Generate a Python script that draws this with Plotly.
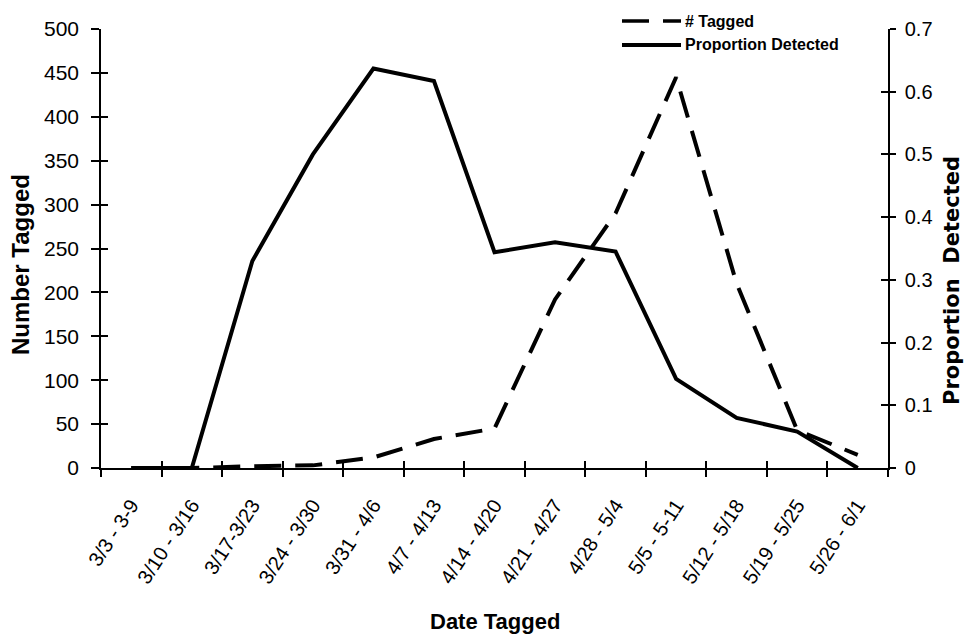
import plotly.graph_objects as go

categories = ["3/3 - 3-9", "3/10 - 3/16", "3/17-3/23", "3/24 - 3/30", "3/31 - 4/6",
              "4/7 - 4/13", "4/14 - 4/20", "4/21 - 4/27", "4/28 - 5/4", "5/5 - 5-11",
              "5/12 - 5/18", "5/19 - 5/25", "5/26 - 6/1"]
number_tagged = [0, 0, 2, 3, 12, 33, 45, 192, 290, 445, 210, 43, 15]
proportion_detected = [0, 0, 0.33, 0.50, 0.637, 0.617, 0.344, 0.36, 0.345, 0.142, 0.08, 0.058, 0]
left_ticks = [0, 50, 100, 150, 200, 250, 300, 350, 400, 450, 500]
right_ticks = [0, 0.1, 0.2, 0.3, 0.4, 0.5, 0.6, 0.7]

FONT = "Arial, Liberation Sans, Helvetica, sans-serif"
WIDE = "DejaVu Sans, Verdana, sans-serif"

L, R, T, B = 101, 80, 29, 167
W, H = 968, 635
plot_w = W - L - R
plot_h = H - T - B


def px_x(px):
    return (px - L) / plot_w


def px_y(py):
    return (H - B - py) / plot_h


fig = go.Figure()
fig.add_trace(go.Scatter(x=categories, y=number_tagged, name="# Tagged", mode="lines",
                         line=dict(color="black", width=4, dash="27px,14px"),
                         xaxis="x", yaxis="y", showlegend=False))
fig.add_trace(go.Scatter(x=categories, y=proportion_detected, name="Proportion Detected",
                         mode="lines", line=dict(color="black", width=4),
                         xaxis="x", yaxis="y2", showlegend=False))
# invisible helper traces so the cross-tick overlay axes get drawn
fig.add_trace(go.Scatter(x=categories, y=[None] * len(categories), xaxis="x2", yaxis="y3",
                         mode="lines", showlegend=False, hoverinfo="skip"))
fig.add_trace(go.Scatter(x=categories, y=[None] * len(categories), xaxis="x2", yaxis="y4",
                         mode="lines", showlegend=False, hoverinfo="skip"))

tickfont = dict(family=FONT, size=20, color="black")

fig.update_layout(
    width=W, height=H,
    margin=dict(l=L, r=R, t=T, b=B, autoexpand=False),
    paper_bgcolor="white", plot_bgcolor="white",
    font=dict(family=FONT, color="black"),
    xaxis=dict(
        type="category", categoryorder="array", categoryarray=categories,
        range=[-0.5, len(categories) - 0.5], automargin=False,
        showline=True, linecolor="black", linewidth=1.5,
        ticks="outside", ticklen=7, tickwidth=1.5, tickcolor="black",
        tickson="boundaries", tickangle=-57, tickfont=tickfont, ticklabelstandoff=16,
        showgrid=False, zeroline=False,
    ),
    xaxis2=dict(
        type="category", categoryorder="array", categoryarray=categories,
        range=[-0.5, len(categories) - 0.5], overlaying="x", anchor="y3", automargin=False,
        showline=False, ticks="inside", ticklen=7, tickwidth=1.5, tickcolor="black",
        tickson="boundaries", showticklabels=False, showgrid=False, zeroline=False,
    ),
    yaxis=dict(
        range=[0, 500], tickvals=left_ticks, automargin=False,
        showline=True, linecolor="black", linewidth=1.5,
        ticks="outside", ticklen=8, tickwidth=1.5, tickcolor="black",
        tickfont=dict(family=FONT, size=21, color="black"), ticklabelstandoff=8,
        showgrid=False, zeroline=False,
    ),
    yaxis2=dict(
        range=[0, 0.7], tickvals=right_ticks, overlaying="y", side="right", automargin=False,
        showline=True, linecolor="black", linewidth=1.5,
        ticks="outside", ticklen=6, tickwidth=1.5, tickcolor="black",
        tickfont=tickfont, ticklabelstandoff=5, showgrid=False, zeroline=False,
    ),
    yaxis3=dict(
        range=[0, 500], tickvals=left_ticks, overlaying="y", side="left", anchor="x2",
        automargin=False,
        showline=False, ticks="inside", ticklen=7, tickwidth=1.5, tickcolor="black",
        showticklabels=False, showgrid=False, zeroline=False,
    ),
    yaxis4=dict(
        range=[0, 0.7], tickvals=right_ticks, overlaying="y", side="right", anchor="x2",
        automargin=False,
        showline=False, ticks="inside", ticklen=7, tickwidth=1.5, tickcolor="black",
        showticklabels=False, showgrid=False, zeroline=False,
    ),
    showlegend=False,
)

# axis titles
fig.add_annotation(xref="paper", yref="paper", x=px_x(495), y=px_y(621),
                   text="<b>Date Tagged</b>", showarrow=False,
                   xanchor="center", yanchor="middle",
                   font=dict(family=FONT, size=22, color="black"))
fig.add_annotation(xref="paper", yref="paper", x=px_x(20), y=px_y(265),
                   text="<b>Number Tagged</b>", textangle=-90, showarrow=False,
                   xanchor="center", yanchor="middle",
                   font=dict(family=FONT, size=24, color="black"))
fig.add_annotation(xref="paper", yref="paper", x=px_x(952), y=px_y(281),
                   text="<b>Proportion&nbsp; Detected</b>", textangle=-90, showarrow=False,
                   xanchor="center", yanchor="middle",
                   font=dict(family=WIDE, size=21, color="black"))

# legend drawn as key lines + text (top right)
legend_items = [("# Tagged", "27px,14px", 21), ("Proportion Detected", "solid", 45)]
for label, dash, ypix in legend_items:
    fig.add_shape(type="line", xref="paper", yref="paper",
                  x0=px_x(622), x1=px_x(681), y0=px_y(ypix), y1=px_y(ypix),
                  line=dict(color="black", width=4 if dash == "solid" else 3.5, dash=dash))
    fig.add_annotation(xref="paper", yref="paper", x=px_x(683), y=px_y(ypix),
                       text="<b>" + label + "</b>", showarrow=False,
                       xanchor="left", yanchor="middle",
                       font=dict(family=FONT, size=16, color="black"))

fig.write_html("out.html")
